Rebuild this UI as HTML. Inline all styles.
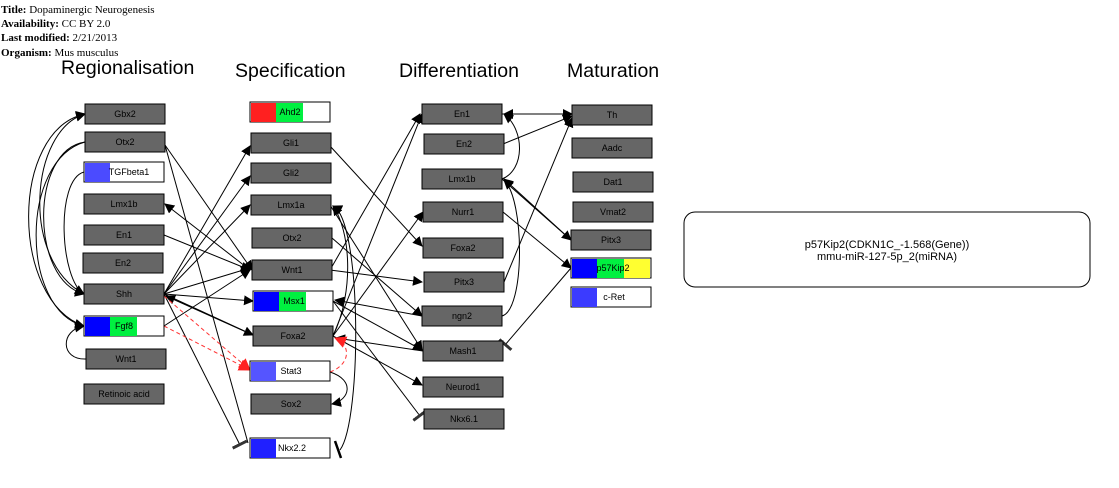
<!DOCTYPE html>
<html><head><meta charset="utf-8"><style>
html,body{margin:0;padding:0;background:#fff;width:1119px;height:488px;overflow:hidden}
svg{display:block}
.t{font-family:"Liberation Serif",serif;font-size:11px}
.h{font-family:"Liberation Sans",sans-serif;font-size:19.5px}
.n{font-family:"Liberation Sans",sans-serif;font-size:9px;text-anchor:middle}
</style></head><body>
<svg width="1119" height="488" viewBox="0 0 1119 488">
<defs>
<marker id="a" markerWidth="10" markerHeight="10" refX="9" refY="5" orient="auto" markerUnits="userSpaceOnUse"><path d="M0,0 L10,5 L0,10 z" fill="#000"/></marker>
<marker id="r" markerWidth="12" markerHeight="12" refX="11" refY="6" orient="auto" markerUnits="userSpaceOnUse"><path d="M0,0 L12,6 L0,12 z" fill="#f22"/></marker>
<marker id="tb" markerWidth="4" markerHeight="16" refX="2" refY="8" orient="auto" markerUnits="userSpaceOnUse"><rect x="0" y="0" width="3" height="16" fill="#333"/></marker>
</defs>
<text class="t" x="1" y="13"><tspan font-weight="bold">Title:</tspan>  Dopaminergic Neurogenesis</text>
<text class="t" x="1" y="27"><tspan font-weight="bold">Availability:</tspan>  CC BY 2.0</text>
<text class="t" x="1" y="41"><tspan font-weight="bold">Last modified:</tspan>  2/21/2013</text>
<text class="t" x="1" y="56"><tspan font-weight="bold">Organism:</tspan>  Mus musculus</text>
<text class="h" x="61" y="74">Regionalisation</text>
<text class="h" x="235" y="77">Specification</text>
<text class="h" x="399" y="77">Differentiation</text>
<text class="h" x="567" y="77">Maturation</text>

<g fill="none" stroke="#000" stroke-width="1">
<path d="M85,142 C30,150 30,280 84,294" marker-end="url(#a)"/>
<path d="M85,142 C20,160 20,310 84,326" marker-end="url(#a)"/>
<path d="M84,294 C20,260 30,130 85,114" marker-end="url(#a)"/>
<path d="M84,326 C10,300 10,130 85,114" marker-end="url(#a)"/>
<path d="M84,172 C55,180 60,280 84,294" marker-end="url(#a)"/>
<path d="M86,359 C60,360 60,330 84,326" marker-end="url(#a)"/>
<line x1="165" y1="145" x2="252" y2="270" marker-end="url(#a)"/>
<line x1="165" y1="145" x2="248" y2="443"/>
<line x1="164" y1="235" x2="250" y2="270" marker-end="url(#a)"/>
<line x1="164" y1="326" x2="250" y2="270" marker-end="url(#a)"/>
<line x1="164" y1="294" x2="250" y2="146" marker-end="url(#a)"/>
<line x1="164" y1="294" x2="250" y2="176" marker-end="url(#a)"/>
<line x1="164" y1="294" x2="250" y2="205" marker-end="url(#a)"/>
<line x1="164" y1="294" x2="250" y2="268" marker-end="url(#a)"/>
<line x1="164" y1="294" x2="253" y2="301" marker-end="url(#a)"/>
<line x1="164" y1="294" x2="253" y2="335" marker-end="url(#a)"/>
<line x1="250" y1="270" x2="165" y2="204" marker-end="url(#a)"/>
<line x1="253" y1="335" x2="166" y2="296" marker-end="url(#a)"/>
<line x1="164" y1="294" x2="240" y2="445" marker-end="url(#tb)"/>
<line x1="330" y1="146" x2="422" y2="246" marker-end="url(#a)"/>
<line x1="332" y1="238" x2="422" y2="316" marker-end="url(#a)"/>
<line x1="330" y1="270" x2="422" y2="282" marker-end="url(#a)"/>
<line x1="330" y1="270" x2="420" y2="114" marker-end="url(#a)"/>
<line x1="333" y1="301" x2="422" y2="350" marker-end="url(#a)"/>
<line x1="333" y1="301" x2="420" y2="416" marker-end="url(#tb)"/>
<line x1="422" y1="316" x2="335" y2="300" marker-end="url(#a)"/>
<line x1="333" y1="336" x2="423" y2="212" marker-end="url(#a)"/>
<line x1="333" y1="336" x2="422" y2="114" marker-end="url(#a)"/>
<line x1="423" y1="351" x2="336" y2="338" marker-end="url(#a)"/>
<line x1="333" y1="336" x2="422" y2="385" marker-end="url(#a)"/>
<line x1="330" y1="205" x2="422" y2="350" marker-end="url(#a)"/>
<path d="M333,336 C355,290 350,230 333,206" marker-end="url(#a)"/>
<path d="M330,372 C355,380 350,400 332,404" marker-end="url(#a)"/>
<path d="M340,450 C362,420 362,220 333,206" marker-end="url(#a)"/>
<line x1="502" y1="114" x2="572" y2="114" marker-end="url(#a)"/>
<line x1="572" y1="114" x2="504" y2="114" marker-end="url(#a)"/>
<line x1="503" y1="144" x2="572" y2="116" marker-end="url(#a)"/>
<line x1="504" y1="282" x2="572" y2="118" marker-end="url(#a)"/>
<line x1="502" y1="179" x2="571" y2="240" marker-end="url(#a)"/>
<line x1="571" y1="240" x2="504" y2="179" marker-end="url(#a)"/>
<line x1="503" y1="212" x2="571" y2="268" marker-end="url(#a)"/>
<line x1="571" y1="268" x2="505" y2="345" marker-end="url(#tb)"/>
<path d="M502,179 C525,170 525,130 504,114" marker-end="url(#a)"/>
<path d="M502,316 C525,310 525,200 504,180" marker-end="url(#a)"/>
</g>
<line x1="335" y1="441" x2="341" y2="458" stroke="#000" stroke-width="2.5"/>
<g fill="none" stroke="#f33" stroke-width="1" stroke-dasharray="4,3">
<line x1="164" y1="296" x2="250" y2="370" marker-end="url(#r)"/>
<line x1="164" y1="326" x2="250" y2="370" marker-end="url(#r)"/>
<path d="M330,372 C350,365 352,345 335,338" marker-end="url(#r)"/>
</g>

<g stroke="#000" stroke-width="1">
<g fill="#666">
<rect x="85" y="104" width="80" height="20"/><rect x="85" y="132" width="80" height="20"/>
<rect x="84" y="194" width="80" height="20"/><rect x="84" y="225" width="80" height="20"/>
<rect x="83" y="253" width="80" height="20"/><rect x="84" y="284" width="80" height="20"/>
<rect x="86" y="349" width="80" height="20"/><rect x="84" y="384" width="80" height="20"/>
<rect x="251" y="133" width="80" height="20"/><rect x="251" y="163" width="80" height="20"/>
<rect x="251" y="195" width="80" height="20"/><rect x="252" y="228" width="80" height="20"/>
<rect x="252" y="260" width="80" height="20"/><rect x="253" y="326" width="80" height="20"/>
<rect x="251" y="394" width="80" height="20"/>
<rect x="422" y="104" width="80" height="20"/><rect x="424" y="134" width="80" height="20"/>
<rect x="422" y="169" width="80" height="20"/><rect x="423" y="202" width="80" height="20"/>
<rect x="423" y="238" width="80" height="20"/><rect x="424" y="272" width="80" height="20"/>
<rect x="422" y="306" width="80" height="20"/><rect x="423" y="341" width="80" height="20"/>
<rect x="423" y="377" width="80" height="20"/><rect x="424" y="409" width="80" height="20"/>
<rect x="572" y="105" width="80" height="20"/><rect x="572" y="138" width="80" height="20"/>
<rect x="573" y="172" width="80" height="20"/><rect x="573" y="202" width="80" height="20"/>
<rect x="571" y="230" width="80" height="20"/>
</g>
<g fill="#fff">
<rect x="84" y="162" width="80" height="20"/><rect x="84" y="316" width="80" height="20"/>
<rect x="250" y="102" width="80" height="20"/><rect x="253" y="291" width="80" height="20"/>
<rect x="250" y="361" width="80" height="20"/><rect x="250" y="438" width="80" height="20"/>
<rect x="571" y="258" width="80" height="20"/><rect x="571" y="287" width="80" height="20"/>
<rect x="684" y="212" width="406" height="75" rx="11"/>
</g>
</g>
<g stroke="none">
<rect x="85" y="163" width="25" height="19" fill="#4b4bff"/>
<rect x="85" y="317" width="25" height="19" fill="#0000ff"/><rect x="110" y="317" width="27" height="19" fill="#00f040"/>
<rect x="251" y="103" width="25" height="19" fill="#ff2020"/><rect x="276" y="103" width="27" height="19" fill="#00f040"/>
<rect x="254" y="292" width="25" height="19" fill="#0000ff"/><rect x="279" y="292" width="27" height="19" fill="#00f040"/>
<rect x="251" y="362" width="25" height="19" fill="#5555ff"/>
<rect x="251" y="439" width="25" height="19" fill="#2020ff"/>
<rect x="572" y="259" width="25" height="19" fill="#0000ff"/><rect x="597" y="259" width="27" height="19" fill="#00f040"/><rect x="624" y="259" width="26" height="19" fill="#ffff30"/>
<rect x="572" y="288" width="25" height="19" fill="#3b3bff"/>
</g>
<g class="n" fill="#000">
<text x="125" y="117">Gbx2</text><text x="125" y="145">Otx2</text><text x="129" y="175">TGFbeta1</text>
<text x="124" y="207">Lmx1b</text><text x="124" y="238">En1</text><text x="123" y="266">En2</text>
<text x="124" y="297">Shh</text><text x="124" y="329">Fgf8</text><text x="126" y="362">Wnt1</text>
<text x="124" y="397">Retinoic acid</text>
<text x="290" y="115">Ahd2</text><text x="291" y="146">Gli1</text><text x="291" y="176">Gli2</text>
<text x="291" y="208">Lmx1a</text><text x="292" y="241">Otx2</text><text x="292" y="273">Wnt1</text>
<text x="294" y="304">Msx1</text><text x="293" y="339">Foxa2</text><text x="291" y="374">Stat3</text>
<text x="291" y="407">Sox2</text><text x="292" y="451">Nkx2.2</text>
<text x="462" y="117">En1</text><text x="464" y="147">En2</text><text x="462" y="182">Lmx1b</text>
<text x="463" y="215">Nurr1</text><text x="463" y="251">Foxa2</text><text x="464" y="285">Pitx3</text>
<text x="462" y="319">ngn2</text><text x="463" y="354">Mash1</text><text x="463" y="390">Neurod1</text>
<text x="464" y="422">Nkx6.1</text>
<text x="612" y="118">Th</text><text x="612" y="151">Aadc</text><text x="613" y="185">Dat1</text>
<text x="613" y="215">Vmat2</text><text x="611" y="243">Pitx3</text><text x="613" y="271">p57Kip2</text>
<text x="614" y="300">c-Ret</text>
<text x="887" y="248" font-size="11">p57Kip2(CDKN1C_-1.568(Gene))</text>
<text x="887" y="260" font-size="11">mmu-miR-127-5p_2(miRNA)</text>
</g>
</svg>
</body></html>
